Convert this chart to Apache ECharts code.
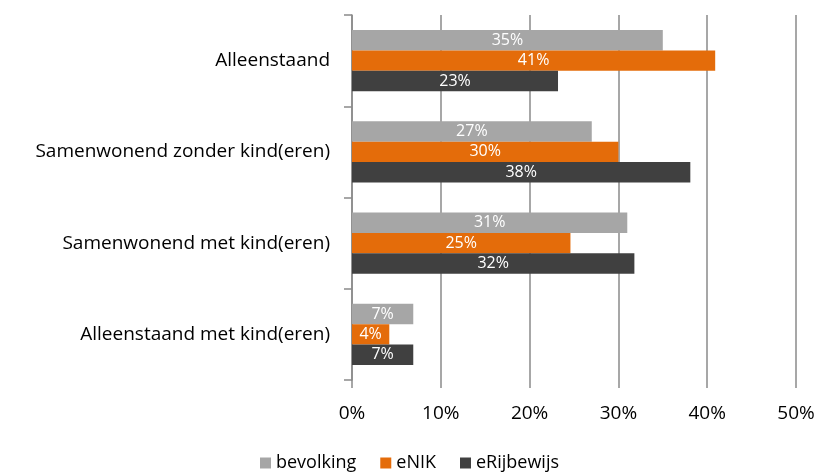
<!DOCTYPE html>
<html>
 <head>
  <meta charset="utf-8" />
  <title>Huishoudsamenstelling</title>
  <script src="https://cdn.jsdelivr.net/npm/echarts@6/dist/echarts.min.js"></script>
 </head>
 <body style="margin:0">
  <div id="main" style="width:819px;height:475px;"></div>
  <script type="text/javascript">
    // categorieen van boven naar beneden
    var categories = ['Alleenstaand', 'Samenwonend zonder kind(eren)', 'Samenwonend met kind(eren)', 'Alleenstaand met kind(eren)'];
    var bevolking = [35.0, 27.0, 31.0, 6.9];
    var eNIK = [40.9, 30.0, 24.6, 4.2];
    var eRijbewijs = [23.2, 38.1, 31.8, 6.9];
    var xTicks = [0, 10, 20, 30, 40, 50];

    var font = '"Open Sans", sans-serif';
    var myChart = echarts.init(document.getElementById('main'));

    function barLabel() {
        return {
            show: true,
            position: 'inside',
            color: '#ffffff',
            fontFamily: font,
            fontSize: 16,
            formatter: function (p) { return Math.round(p.value) + '%'; }
        };
    }

    myChart.setOption({
        animation: false,
        grid: { left: 352, right: 23, top: 15, bottom: 95 },
        legend: {
            top: 449,
            left: 'center',
            icon: 'rect',
            itemWidth: 11,
            itemHeight: 11,
            itemGap: 24,
            textStyle: { fontFamily: font, fontSize: 18, color: '#000' },
            data: ['bevolking', 'eNIK', 'eRijbewijs']
        },
        xAxis: {
            type: 'value',
            min: xTicks[0],
            max: xTicks[xTicks.length - 1],
            interval: 10,
            axisLine: { show: false },
            axisTick: { show: true, length: 8, lineStyle: { color: '#8a8a8a', width: 1.5 } },
            splitLine: { show: true, lineStyle: { color: '#8a8a8a', width: 1.5 } },
            axisLabel: { formatter: '{value}%', fontFamily: font, fontSize: 19, color: '#000', margin: 24 }
        },
        yAxis: {
            type: 'category',
            inverse: true,
            data: categories,
            axisLine: { show: true, lineStyle: { color: '#8a8a8a', width: 1.5 } },
            axisTick: { show: true, length: 8, lineStyle: { color: '#8a8a8a', width: 1.5 } },
            axisLabel: { fontFamily: font, fontSize: 19, color: '#000', margin: 22 }
        },
        series: [
            { name: 'bevolking', type: 'bar', data: bevolking, barGap: '0%', barCategoryGap: '33%',
              itemStyle: { color: '#a6a6a6' }, label: barLabel() },
            { name: 'eNIK', type: 'bar', data: eNIK,
              itemStyle: { color: '#e46c0a' }, label: barLabel() },
            { name: 'eRijbewijs', type: 'bar', data: eRijbewijs,
              itemStyle: { color: '#404040' }, label: barLabel() }
        ]
    });
  </script>
 </body>
</html>
